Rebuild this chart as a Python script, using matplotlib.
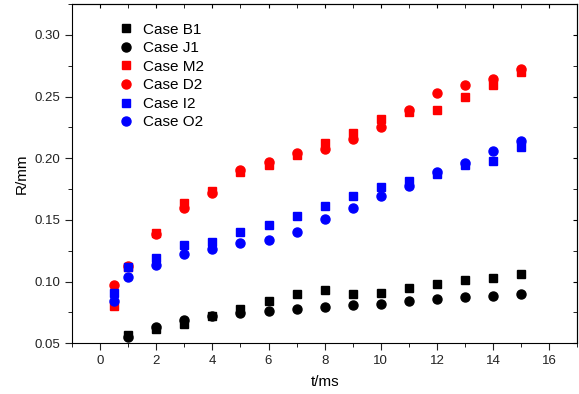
import numpy as np
import matplotlib
matplotlib.use("Agg")
import matplotlib.pyplot as plt
from matplotlib.ticker import MultipleLocator

plt.rcParams['font.family'] = ['Liberation Sans', 'DejaVu Sans']

# series data
t1 = [1, 2, 3, 4, 5, 6, 7, 8, 9, 10, 11, 12, 13, 14, 15]
b1 = [0.0565, 0.0614, 0.0659, 0.0725, 0.0780, 0.0843, 0.0900, 0.0933, 0.0900,
      0.0906, 0.0946, 0.0981, 0.1011, 0.1028, 0.1062]
j1 = [0.0553, 0.0632, 0.0689, 0.0722, 0.0743, 0.0760, 0.0778, 0.0795, 0.0811,
      0.0819, 0.0843, 0.0857, 0.0873, 0.0884, 0.0900]

t2 = [0.5, 1, 2, 3, 4, 5, 6, 7, 8, 9, 10, 11, 12, 13, 14, 15]
m2 = [0.0805, 0.1120, 0.1390, 0.1641, 0.1736, 0.1888, 0.1947, 0.2028, 0.2123,
      0.2205, 0.2318, 0.2377, 0.2391, 0.2499, 0.2597, 0.2700]
d2 = [0.0976, 0.1127, 0.1385, 0.1600, 0.1720, 0.1904, 0.1971, 0.2042, 0.2071,
      0.2153, 0.2250, 0.2394, 0.2526, 0.2591, 0.2640, 0.2726]
i2 = [0.0908, 0.1117, 0.1192, 0.1298, 0.1325, 0.1400, 0.1458, 0.1533, 0.1609,
      0.1690, 0.1769, 0.1817, 0.1872, 0.1945, 0.1980, 0.2088]
o2 = [0.0841, 0.1038, 0.1136, 0.1225, 0.1265, 0.1309, 0.1336, 0.1406, 0.1506,
      0.1593, 0.1690, 0.1774, 0.1890, 0.1961, 0.2061, 0.2136]

fig = plt.figure(figsize=(5.79, 3.94), dpi=100)
ax = fig.add_axes([0.1244, 0.1287, 0.8726, 0.8611])

ax.plot(t1, b1, 's', color='black', ms=5.8, label='Case B1')
ax.plot(t1, j1, 'o', color='black', ms=6.5, label='Case J1')
ax.plot(t2, m2, 's', color='red', ms=5.8, label='Case M2')
ax.plot(t2, d2, 'o', color='red', ms=6.5, label='Case D2')
ax.plot(t2, i2, 's', color='blue', ms=5.8, label='Case I2')
ax.plot(t2, o2, 'o', color='blue', ms=6.5, label='Case O2')

ax.set_xlim(-1, 17)
ax.set_ylim(0.05, 0.325)
ax.xaxis.set_major_locator(MultipleLocator(2))
ax.xaxis.set_minor_locator(MultipleLocator(1))
ax.yaxis.set_major_locator(MultipleLocator(0.05))
ax.yaxis.set_minor_locator(MultipleLocator(0.025))
ax.yaxis.set_major_formatter(matplotlib.ticker.FormatStrFormatter('%.2f'))
ax.tick_params(which='major', direction='out', length=5, labelsize=9.5, colors='#222222')
ax.tick_params(which='minor', direction='out', length=3)

# inward ticks on top and right
top = ax.secondary_xaxis('top')
top.xaxis.set_major_locator(MultipleLocator(2))
top.xaxis.set_minor_locator(MultipleLocator(1))
top.tick_params(which='both', direction='in', length=3, labeltop=False)
right = ax.secondary_yaxis('right')
right.yaxis.set_major_locator(MultipleLocator(0.05))
right.yaxis.set_minor_locator(MultipleLocator(0.025))
right.tick_params(which='both', direction='in', length=3, labelright=False)

ax.set_xlabel('t/ms', fontsize=11, labelpad=6)
ax.set_ylabel('R/mm', fontsize=11)

ax.legend(loc='upper left', frameon=False, fontsize=11, handletextpad=0.5,
          labelspacing=0.3, borderaxespad=0.3, bbox_to_anchor=(0.068, 0.977),
          handlelength=1.2)

fig.savefig('out.png', dpi=100)
